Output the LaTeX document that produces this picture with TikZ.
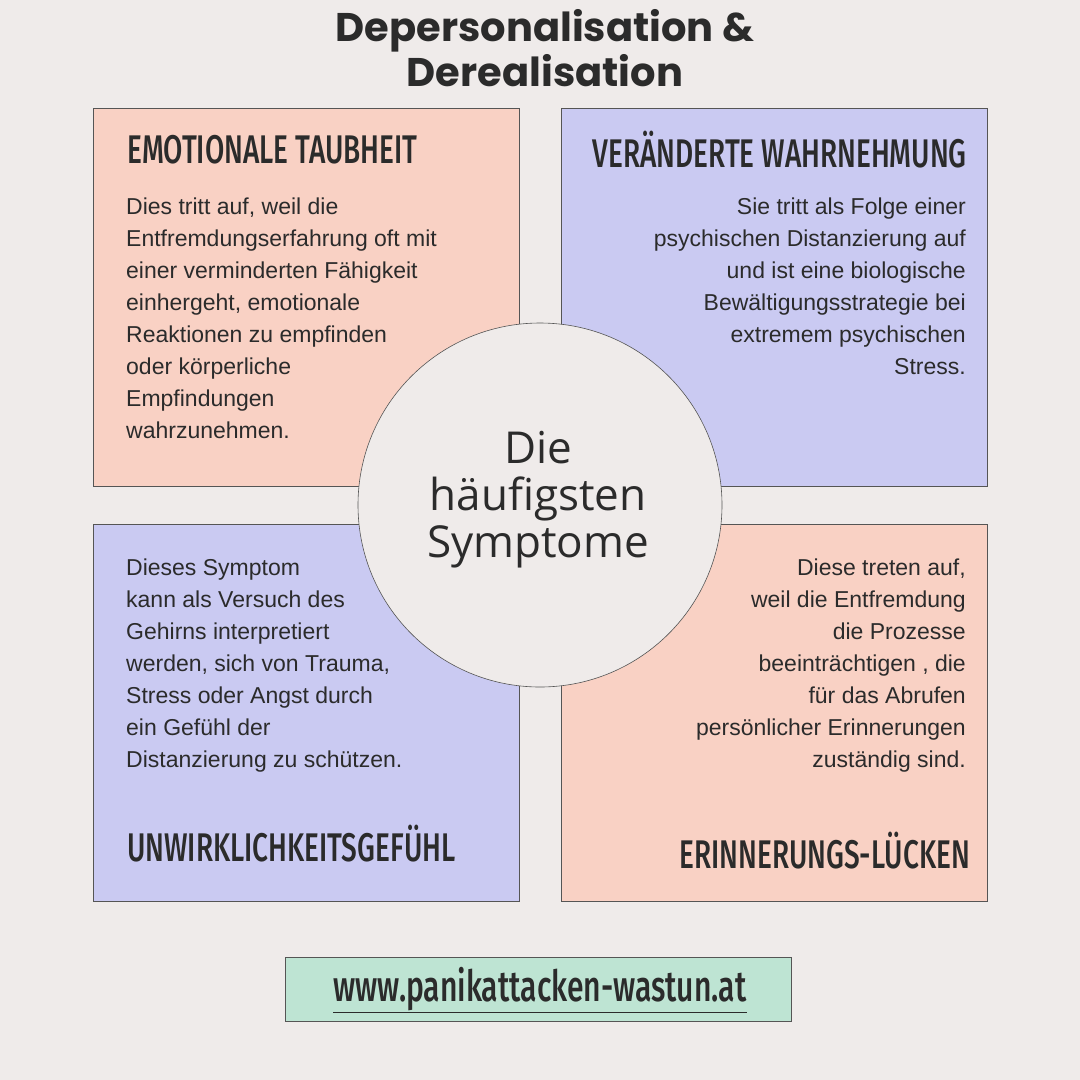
\documentclass[tikz,border=0pt]{standalone}
\usepackage{fontspec}
\setmainfont{Liberation Sans}
\newfontfamily\titlefont{Poppins}[BoldFont=* Bold]
\newfontfamily\headfont[FakeStretch=0.7]{Fira Sans Medium}
\newfontfamily\circfont{Open Sans}
\definecolor{bg}{HTML}{EFEBEA}
\definecolor{salmon}{HTML}{F9D1C4}
\definecolor{lav}{HTML}{CACAF2}
\definecolor{mint}{HTML}{BEE4D3}
\definecolor{ink}{HTML}{2B2B2B}
\tikzset{
 card/.style={draw=ink!80,line width=0.6pt},
 head/.style={font=\headfont\fontsize{40}{44}\selectfont,text=ink,inner sep=0pt},
 body/.style={font=\fontsize{23}{32}\selectfont,text=ink,inner sep=0pt},
}
\begin{document}
\begin{tikzpicture}[x=1pt,y=-1pt]
\useasboundingbox (0,0) rectangle (1080,1080);
\fill[bg] (0,0) rectangle (1080,1080);
\node[font=\titlefont\bfseries\fontsize{40}{45}\selectfont,text=ink,align=center,inner sep=0pt] (title) at (545,48) {Depersonalisation \&\\Derealisation};
\draw[card,fill=salmon] (93,108) rectangle (519,486);
\draw[card,fill=lav] (561,108) rectangle (987,486);
\draw[card,fill=lav] (93,524) rectangle (519,901);
\draw[card,fill=salmon] (561,524) rectangle (987,901);
\node[head,anchor=west] (h1) at (127,150) {EMOTIONALE TAUBHEIT};
\node[head,anchor=east] (h2) at (967,150) {VERÄNDERTE WAHRNEHMUNG};
\node[head,anchor=west] (h3) at (127,844) {UNWIRKLICHKEITSGEFÜHL};
\node[head,anchor=east] (h4) at (970,851) {ERINNERUNGS-LÜCKEN};
\node[body,anchor=north west,align=left] (b1) at (126,198) {Dies tritt auf, weil die\\Entfremdungserfahrung oft mit\\einer verminderten Fähigkeit\\einhergeht, emotionale\\Reaktionen zu empfinden\\oder körperliche\\Empfindungen\\wahrzunehmen.};
\node[body,anchor=north east,align=right] (b2) at (966,198) {Sie tritt als Folge einer\\psychischen Distanzierung auf\\und ist eine biologische \\Bewältigungsstrategie bei\\extremem psychischen\\Stress.};
\node[body,anchor=north west,align=left] (b3) at (126,559) {Dieses Symptom\\kann als Versuch des\\Gehirns interpretiert\\werden, sich von Trauma,\\Stress oder Angst durch\\ein Gefühl der\\Distanzierung zu schützen.};
\node[body,anchor=north east,align=right] (b4) at (966,559) {Diese treten auf, \\weil die Entfremdung \\die Prozesse\\beeinträchtigen , die \\für das Abrufen\\persönlicher Erinnerungen\\zuständig sind.};
\draw[card,fill=bg] (540,505) circle (182);
\node[font=\circfont\fontsize{44}{47}\selectfont,text=ink,align=center,inner sep=0pt] (c) at (538,500) {Die\\häufigsten\\Symptome};
\draw[card,fill=mint] (285,957) rectangle (791,1021);
\node[font=\headfont\fontsize{43}{44}\selectfont,text=ink,inner sep=0pt] (url) at (540,990) {\underline{www.panikattacken-wastun.at}};
\end{tikzpicture}
\end{document}
